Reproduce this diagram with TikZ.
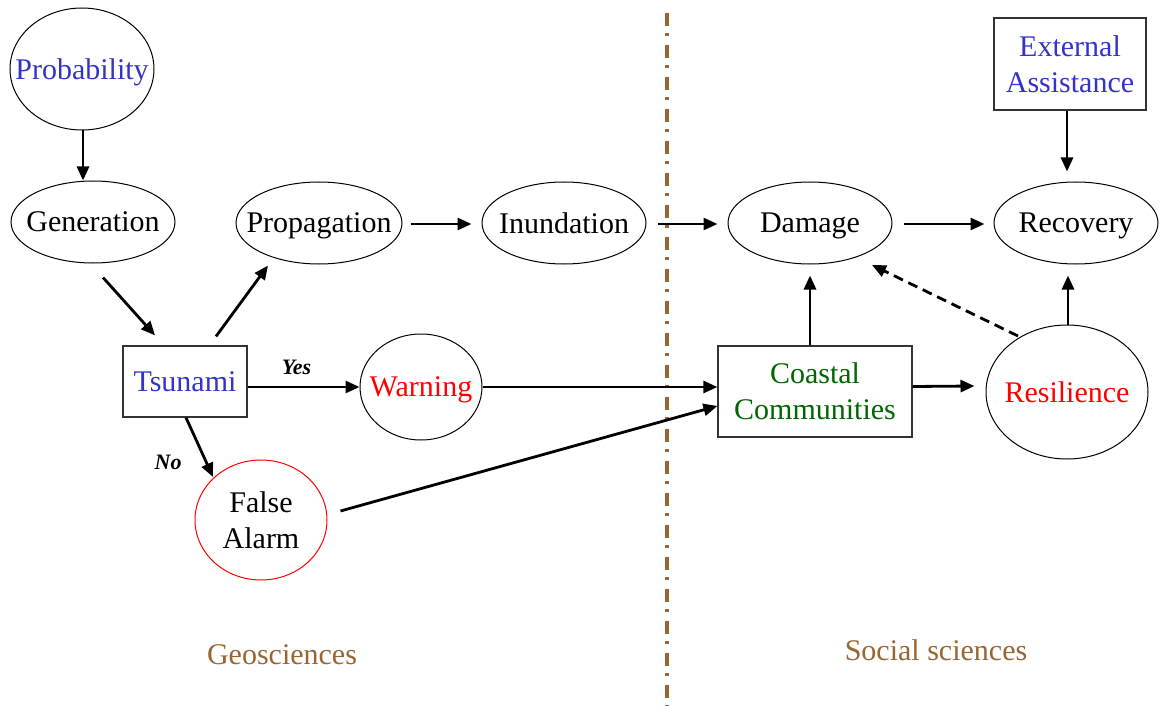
\documentclass[tikz,border=0pt]{standalone}
\usepackage{fontspec}
\setmainfont{Liberation Serif}
\usetikzlibrary{shapes.geometric,arrows.meta,calc}
\definecolor{tblue}{RGB}{51,51,204}
\definecolor{tred}{RGB}{255,0,0}
\definecolor{tgreen}{RGB}{0,102,0}
\definecolor{tbrown}{RGB}{153,102,51}
\tikzset{
  ell/.style={ellipse,draw,line width=1pt,inner xsep=-45pt,inner ysep=-12pt,text depth=0pt,font=\fontsize{30}{36}\selectfont,align=center},
  boxn/.style={rectangle,draw=black!80,line width=1.2pt,inner sep=0pt,font=\fontsize{30}{36}\selectfont,align=center},
  arr/.style={line width=2.8pt,-{Triangle[length=14pt,width=12pt]}},
  lbl/.style={font=\fontsize{22}{24}\selectfont\bfseries\itshape},
  area/.style={font=\fontsize{30}{36}\selectfont,text=tbrown},
}
\begin{document}
\begin{tikzpicture}[x=1pt,y=-1pt]
\path[use as bounding box] (0,0) rectangle (1160,706);
% divider
\draw[tbrown,line width=4pt,dash pattern=on 13pt off 7pt on 3pt off 9pt] (667,13) -- (667,706);
% nodes
\node[ell,minimum width=144pt,minimum height=122pt,text=tblue] (prob) at (82,69) {Probability};
\node[ell,minimum width=164pt,minimum height=82pt] (gen) at (93,222) {Generation};
\node[ell,minimum width=166pt,minimum height=82pt] (prop) at (319,223) {Propagation};
\node[ell,minimum width=164pt,minimum height=82pt] (inund) at (564,223) {Inundation};
\node[ell,minimum width=164pt,minimum height=82pt] (dmg) at (810,223) {Damage};
\node[ell,minimum width=164pt,minimum height=82pt] (rec) at (1076,223) {Recovery};
\node[boxn,minimum width=152pt,minimum height=92pt,text=tblue] (ext) at (1070,64) {External\\Assistance};
\node[boxn,minimum width=124pt,minimum height=71pt,text=tblue] (tsu) at (185,381.5) {Tsunami};
\node[ell,minimum width=122pt,minimum height=106pt,text=tred] (warn) at (421,387) {Warning};
\node[boxn,minimum width=194pt,minimum height=91pt,text=tgreen] (coast) at (815,391.5) {Coastal\\Communities};
\node[ell,minimum width=162pt,minimum height=134pt,text=tred] (res) at (1067,392) {Resilience};
\node[ell,draw=tred,minimum width=132pt,minimum height=120pt] (fa) at (261,520) {False\\Alarm};
\node[area] (geo) at (282,655) {Geosciences};
\node[area] (soc) at (936,650) {Social sciences};
% connectors
\draw[arr] ($(prob.south)+(1,0)$) -- ($(prob.south |- gen.north)+(1,0)$);
\draw[arr] ($(gen.south)+(10,14)$) -- ($(tsu.north)+(-30,-10)$);
\draw[arr] ($(tsu.north)+(31,-9)$) -- ($(prop.south)+(-51,1)$);
\draw[arr] ($(prop.east)+(8,1)$) -- ($(inund.west)+(-10,1)$);
\draw[arr] ($(inund.east)+(11,1)$) -- ($(dmg.west)+(-10,1)$);
\draw[arr] ($(dmg.east)+(11,1)$) -- ($(rec.west)+(-9,1)$);
\draw[arr] ($(ext.south)+(-3,0)$) -- ($(rec.north)+(-9,-10)$);
\draw[arr] (tsu.east |- warn) -- node[lbl,above=8pt,xshift=-7pt]{Yes} (warn.west);
\draw[arr] ($(tsu.south)+(1,0)$) -- node[lbl,pos=0.75,left=20pt]{No} ($(fa.center)+(-48,-43)$);
\draw[arr] (warn.east) -- (warn.east -| coast.west);
\draw[arr] ($(fa.east)+(13,-9)$) -- ($(coast.west)+(0,14.5)$);
\draw[arr] ($(coast.north)+(-5,0)$) -- ($(dmg.south)+(0,11)$);
\draw[arr] ($(coast.east)+(0,-5)$) -- ($(res.west)+(-11,-6)$);
\draw[arr] ($(res.north)+(1,0)$) -- ($(rec.south)+(-8,11)$);
\draw[arr,dash pattern=on 10pt off 6pt] ($(res.center)+(-49,-56)$) -- ($(dmg.center)+(62,42)$);
\end{tikzpicture}
\end{document}
